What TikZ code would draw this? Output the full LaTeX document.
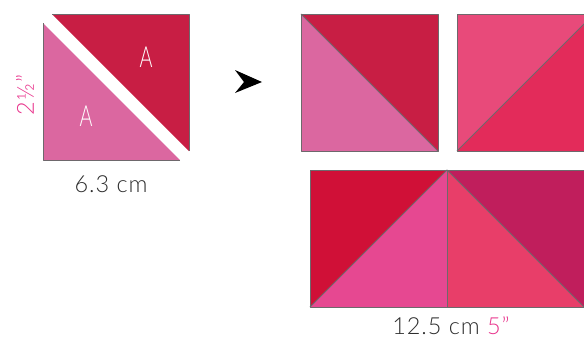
\documentclass[tikz,border=0pt]{standalone}
\usepackage{fontspec}
\setmainfont{Lato Light}[LetterSpace=4]
\begin{document}
\begin{tikzpicture}[x=1pt,y=-1pt,
  edge/.style={draw=edgegray,line width=0.9pt,line join=round},
  lbl/.style={inner sep=0pt,font=\fontsize{23.5}{26}\selectfont,text=txtgray},
  alabel/.style={inner sep=0pt,text=white,font=\fontsize{29}{30}\selectfont,xscale=0.68,transform shape}]
\definecolor{edgegray}{RGB}{110,104,108}
\definecolor{txtgray}{RGB}{45,45,45}
\definecolor{mag}{RGB}{232,52,140}
\definecolor{cpink}{RGB}{219,103,160}
\definecolor{cred}{RGB}{200,30,68}
\definecolor{crose}{RGB}{232,74,122}
\definecolor{crasp}{RGB}{227,43,90}
\definecolor{ccrim}{RGB}{208,16,55}
\definecolor{chot}{RGB}{230,72,145}
\definecolor{ccoral}{RGB}{232,62,105}
\definecolor{cberry}{RGB}{192,30,92}
\useasboundingbox (0,0) rectangle (584,341);
% left cut triangles
\fill[cpink] (43,23) -- (43,160) -- (180,160) -- cycle;
\draw[edge] (43,23) -- (43,160) -- (180,160);
\fill[cred] (52,14) -- (189,14) -- (189,151) -- cycle;
\draw[edge] (52,14) -- (189,14) -- (189,151);
\node[alabel] (a1) at (146,57) {A};
\node[alabel] (a2) at (86,116) {A};
\node[lbl,text=mag,rotate=90] (h) at (25,95) {2½”};
\node[lbl] (w) at (111,184) {6.3 cm};
% arrow
\fill[black] (262,82) -- (235,70) -- (244,82) -- (235,93) -- cycle;
% top right square 1
\fill[cpink] (301,14) -- (301,151) -- (438,151) -- cycle;
\fill[cred] (301,14) -- (438,14) -- (438,151) -- cycle;
\draw[edge] (301,14) rectangle (438,151);
\draw[edge] (301,14) -- (438,151);
% top right square 2
\fill[crose] (457,14) -- (594,14) -- (457,151) -- cycle;
\fill[crasp] (594,14) -- (594,151) -- (457,151) -- cycle;
\draw[edge] (457,14) rectangle (594,151);
\draw[edge] (457,151) -- (594,14);
% bottom
\fill[ccrim] (310,170) -- (447,170) -- (310,307) -- cycle;
\fill[chot] (447,170) -- (447,307) -- (310,307) -- cycle;
\fill[ccoral] (447,170) -- (584,307) -- (447,307) -- cycle;
\fill[cberry] (447,170) -- (584,170) -- (584,307) -- cycle;
\draw[edge] (310,170) rectangle (584,307);
\draw[edge] (310,307) -- (447,170) -- (584,307);
\draw[edge] (447,170) -- (447,307);
\node[lbl] (b) at (451,326) {12.5 cm \textcolor{mag}{5”}};
\end{tikzpicture}
\end{document}
